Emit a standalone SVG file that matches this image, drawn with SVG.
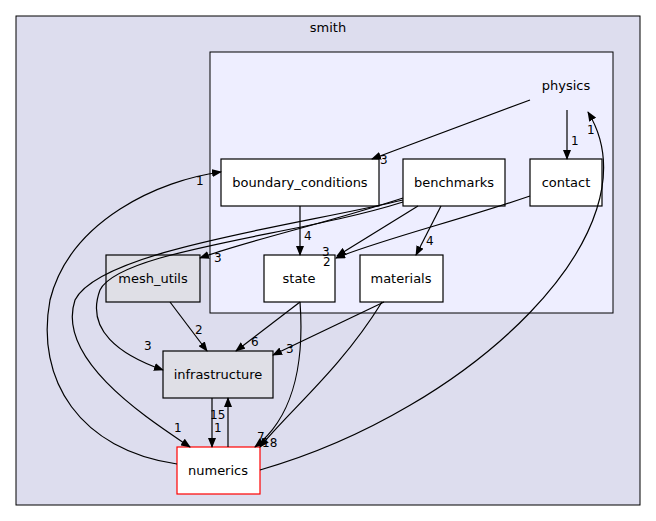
<svg xmlns="http://www.w3.org/2000/svg" width="656" height="521" viewBox="0 0 656 521">
<defs><marker id="a" markerWidth="10" markerHeight="8" refX="9" refY="4" orient="auto" markerUnits="userSpaceOnUse"><path d="M0,0L10,4L0,8z" fill="#000"/></marker></defs>
<style>text{font-family:"DejaVu Sans",sans-serif;font-size:13px;fill:#000}.l{font-size:12px}.e{fill:none;stroke:#000;stroke-width:1.2;marker-end:url(#a)}.n{fill:#fff;stroke:#000;stroke-width:1.2}</style>
<rect x="16" y="16" width="624" height="489" fill="#ddddee" stroke="#000"/>
<text x="328" y="32" text-anchor="middle">smith</text>
<rect x="210" y="52" width="403" height="261" fill="#eeeeff" stroke="#000"/>
<g id="physics"><text x="566" y="90" text-anchor="middle">physics</text></g>
<g id="boundary_conditions"><rect class="n" x="221" y="159" width="158" height="47"/><text x="300" y="187" text-anchor="middle">boundary_conditions</text></g>
<g id="benchmarks"><rect class="n" x="403" y="159" width="102" height="47"/><text x="454" y="187" text-anchor="middle">benchmarks</text></g>
<g id="contact"><rect class="n" x="530" y="159" width="72" height="47"/><text x="566" y="187" text-anchor="middle">contact</text></g>
<g id="state"><rect class="n" x="264" y="255" width="71" height="47"/><text x="299" y="283" text-anchor="middle">state</text></g>
<g id="materials"><rect class="n" x="360" y="255" width="83" height="47"/><text x="401" y="283" text-anchor="middle">materials</text></g>
<g id="mesh_utils"><rect x="106" y="255" width="94" height="47" fill="#dfdfe6" stroke="#000" stroke-width="1.2"/><text x="153" y="283" text-anchor="middle">mesh_utils</text></g>
<g id="infrastructure"><rect x="163" y="351" width="110" height="47" fill="#dfdfe6" stroke="#000" stroke-width="1.2"/><text x="218" y="379" text-anchor="middle">infrastructure</text></g>
<g id="numerics"><rect x="177" y="447" width="83" height="47" fill="#fff" stroke="#f00" stroke-width="1.2"/><text x="218" y="475" text-anchor="middle">numerics</text></g>
<g id="edges">
<path class="e" d="M530,100L372,159"/><text class="l" x="380" y="164">3</text>
<path class="e" d="M567,110L567,159"/><text class="l" x="571" y="145">1</text>
<path class="e" d="M300,206L300,255"/><text class="l" x="304" y="240">4</text>
<path class="e" d="M418,206L337,256"/><text class="l" x="322" y="256">3</text>
<path class="e" d="M441,206L416,255"/><text class="l" x="426" y="245">4</text>
<path class="e" d="M403,198C320,225 250,240 200,258"/><text class="l" x="214" y="262">3</text>
<path class="e" d="M530,196C460,220 380,240 336,258"/><text class="l" x="323" y="266">2</text>
<path class="e" d="M403,202C300,235 120,250 100,290C85,330 120,355 163,370"/><text class="l" x="144" y="350">3</text>
<path class="e" d="M403,200C300,225 100,250 75,300C55,360 150,420 190,447"/><text class="l" x="174" y="432">1</text>
<path class="e" d="M177,464C80,450 35,380 50,300C70,220 160,180 221,172"/><text class="l" x="196" y="185">1</text>
<path class="e" d="M170,302L207,351"/><text class="l" x="195" y="334">2</text>
<path class="e" d="M300,302L236,351"/><text class="l" x="251" y="346">6</text>
<path class="e" d="M384,302L273,355"/><text class="l" x="286" y="353">3</text>
<path class="e" d="M300,302C305,370 290,420 255,447"/><text class="l" x="257" y="441">7</text>
<path class="e" d="M382,302C340,370 290,410 260,447"/><text class="l" x="262" y="447">18</text>
<path class="e" d="M212,398L212,447"/><text class="l" x="214" y="432">1</text>
<path class="e" d="M228,447L228,398"/><text class="l" x="210" y="419">15</text>
<path class="e" d="M260,470C470,410 660,230 588,112"/><text class="l" x="587" y="134">1</text>
</g>
</svg>
